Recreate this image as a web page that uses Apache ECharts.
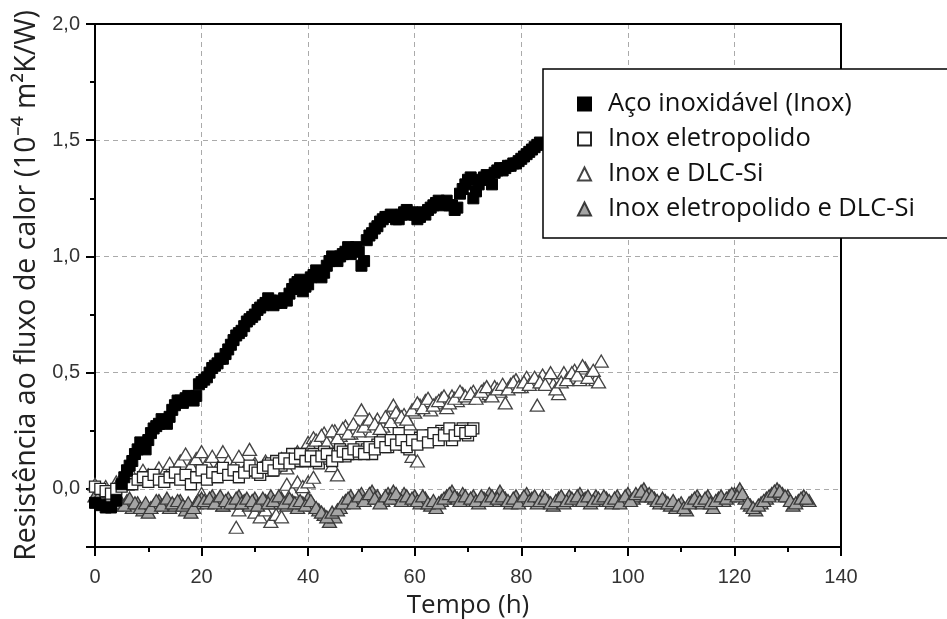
<!DOCTYPE html>
<html><head><meta charset="utf-8">
<script src="https://cdn.jsdelivr.net/npm/echarts@6/dist/echarts.min.js"></script>
<style>html,body{margin:0;padding:0;background:#fff}#c{width:947px;height:619px}</style>
</head><body><div id="c"></div>
<script>
const seriesNames = ['Aço inoxidável (Inox)', 'Inox eletropolido', 'Inox e DLC-Si', 'Inox eletropolido e DLC-Si'];

const inoxHours = [0,1,2,3,4,5,6,7,8,9,10,11,12,13,14,15,16,17,18,19,20,21,22,23,24,25,26,27,28,29,30,31,32,33,34,35,36,37,38,39,40,41,42,43,44,45,46,47,48,49,50,51,52,53,54,55,56,57,58,59,60,61,62,63,64,65,66,67,68,69,70,71,72,73,74,75,76,77,78,79,80,81,82,83];
const inoxValues = [-0.06,-0.07,-0.08,-0.08,-0.05,0.02,0.08,0.12,0.17,0.19,0.21,0.26,0.28,0.29,0.31,0.36,0.38,0.39,0.39,0.40,0.46,0.48,0.52,0.54,0.56,0.60,0.64,0.67,0.70,0.73,0.75,0.78,0.80,0.81,0.80,0.80,0.81,0.86,0.89,0.85,0.88,0.92,0.93,0.93,0.98,0.99,1.00,1.02,1.01,1.04,0.96,1.07,1.10,1.13,1.16,1.17,1.17,1.16,1.19,1.18,1.18,1.17,1.18,1.21,1.23,1.22,1.24,1.22,1.21,1.29,1.33,1.25,1.31,1.34,1.33,1.36,1.38,1.38,1.39,1.40,1.42,1.44,1.46,1.48];
const inoxExtra = [[5.5,0.05],[6.5,0.10],[7.5,0.15],[8.5,0.20],[9.5,0.17],[10.5,0.24],[11.5,0.27],[12.5,0.30],[13.5,0.28],[14.5,0.34],[15.5,0.38],[16.5,0.37],[17.5,0.40],[18.5,0.38],[19.5,0.45],[20.5,0.47],[21.5,0.50],[22.5,0.53],[23.5,0.56],[24.5,0.58],[25.5,0.62],[26.5,0.66],[27.5,0.68],[28.5,0.72],[29.5,0.74],[30.5,0.77],[31.5,0.79],[32.5,0.82],[33.5,0.79],[34.5,0.81],[35.5,0.82],[36.5,0.84],[37.5,0.88],[38.5,0.90],[39.5,0.87],[40.5,0.91],[41.5,0.94],[42.5,0.91],[43.5,0.96],[44.5,1.00],[45.5,0.98],[46.5,1.01],[47.5,1.04],[48.5,1.03],[49.5,1.02],[50.5,0.98],[51.5,1.09],[52.5,1.12],[53.5,1.15],[54.5,1.17],[55.5,1.18],[56.5,1.16],[57.5,1.18],[58.5,1.20],[59.5,1.19],[60.5,1.16],[61.5,1.19],[62.5,1.20],[63.5,1.22],[64.5,1.24],[65.5,1.23],[66.5,1.22],[67.5,1.20],[68.5,1.27],[69.5,1.31],[70.5,1.34],[71.5,1.28],[72.5,1.33],[73.5,1.35],[74.5,1.31],[75.5,1.37],[76.5,1.37],[77.5,1.39],[78.5,1.40],[79.5,1.41],[80.5,1.43],[81.5,1.45],[82.5,1.47],[83.5,1.49]];

const eletroHours = [0,1,2,3,4,5,6,7,8,9,10,11,12,13,14,15,16,17,18,19,20,21,22,23,24,25,26,27,28,29,30,31,32,33,34,35,36,37,38,39,40,41,42,43,44,45,46,47,48,49,50,51,52,53,54,55,56,57,58,59,60,61,62,63,64,65,66,67,68,69,70,71];
const eletroValues = [0.01,0.00,-0.01,-0.02,0.00,0.01,0.03,0.02,0.04,0.05,0.03,0.06,0.04,0.03,0.05,0.07,0.04,0.06,0.02,0.05,0.08,0.04,0.07,0.05,0.09,0.06,0.08,0.05,0.07,0.10,0.08,0.06,0.09,0.11,0.12,0.10,0.13,0.15,0.12,0.14,0.13,0.15,0.11,0.16,0.13,0.15,0.17,0.14,0.16,0.15,0.18,0.17,0.15,0.19,0.21,0.18,0.20,0.24,0.19,0.17,0.20,0.22,0.21,0.23,0.22,0.25,0.24,0.21,0.24,0.26,0.23,0.26];
const eletroExtra = [[30.5,0.07],[31.5,0.09],[32.5,0.10],[33.5,0.08],[34.5,0.11],[35.5,0.13],[36.5,0.11],[37.5,0.13],[38.5,0.15],[39.5,0.12],[40.5,0.14],[41.5,0.12],[42.5,0.14],[43.5,0.15],[44.5,0.12],[45.5,0.14],[46.5,0.16],[47.5,0.15],[48.5,0.17],[49.5,0.16],[50.5,0.15],[51.5,0.18],[52.5,0.17],[53.5,0.20],[54.5,0.18],[55.5,0.21],[56.5,0.19],[57.5,0.21],[58.5,0.18],[59.5,0.21],[60.5,0.19],[61.5,0.23],[62.5,0.20],[63.5,0.24],[64.5,0.21],[65.5,0.23],[66.5,0.26],[67.5,0.23],[68.5,0.25],[69.5,0.24],[70.5,0.25]];

const dlcHours = [0,1,2,3,4,5,6,7,8,9,10,11,12,13,14,15,16,17,18,19,20,21,22,23,24,25,26,27,28,29,30,31,32,33,34,35,36,37,38,39,40,41,42,43,44,45,46,47,48,49,50,51,52,53,54,55,56,57,58,59,60,61,62,63,64,65,66,67,68,69,70,71,72,73,74,75,76,77,78,79,80,81,82,83,84,85,86,87,88,89,90,91,92,93,94,95];
const dlcValues = [0.02,0.00,0.01,-0.01,0.03,0.05,0.02,0.06,0.04,0.08,0.06,0.05,0.09,0.07,0.11,0.08,0.12,0.15,0.10,0.13,0.16,0.11,0.14,0.09,0.16,0.12,0.10,0.14,0.08,0.17,0.11,0.09,0.12,0.08,0.11,0.13,0.09,0.14,0.16,0.12,0.20,0.22,0.19,0.24,0.21,0.25,0.23,0.27,0.24,0.26,0.34,0.28,0.25,0.30,0.27,0.31,0.36,0.29,0.32,0.28,0.33,0.36,0.38,0.34,0.37,0.39,0.35,0.40,0.38,0.41,0.39,0.42,0.40,0.43,0.41,0.44,0.42,0.37,0.45,0.47,0.44,0.48,0.46,0.36,0.49,0.47,0.45,0.41,0.50,0.48,0.51,0.47,0.52,0.49,0.47,0.55];
const dlcExtra = [[20,-0.02],[22,-0.04],[24,-0.07],[25,-0.05],[26.5,-0.165],[27,-0.09],[29,-0.06],[30,-0.10],[31,-0.12],[32,-0.09],[33,-0.14],[34,-0.11],[35,-0.12],[36,0.02],[37,-0.01],[38,0.03],[39,0.01],[40,0.03],[41,0.05],[44.5,0.10],[45.5,0.06],[59.5,0.14],[60.5,0.12],
  [40.5,0.18],[41.5,0.21],[42.5,0.23],[43.5,0.20],[44.5,0.25],[45.5,0.22],[46.5,0.26],[47.5,0.24],[48.5,0.28],[49.5,0.25],[50.5,0.27],[51.5,0.30],[52.5,0.28],[53.5,0.26],[54.5,0.31],[55.5,0.29],[56.5,0.33],[57.5,0.31],[58.5,0.30],[59.5,0.34],[60.5,0.37],[61.5,0.35],[62.5,0.39],[63.5,0.36],[64.5,0.38],[65.5,0.40],[66.5,0.37],[67.5,0.39],[68.5,0.42],[69.5,0.40],[70.5,0.41],[71.5,0.39],[72.5,0.42],[73.5,0.44],[74.5,0.40],[75.5,0.43],[76.5,0.45],[77.5,0.43],[78.5,0.46],[79.5,0.44],[80.5,0.46],[81.5,0.45],[82.5,0.48],[83.5,0.46],[84.5,0.45],[85.5,0.50],[86.5,0.43],[87.5,0.46],[88.5,0.47],[89.5,0.50],[90.5,0.49],[91.5,0.53],[92.5,0.48],[93.5,0.51],[94.5,0.46]];

const eletroDlcHours = [0,1,2,3,4,5,6,7,8,9,10,11,12,13,14,15,16,17,18,19,20,21,22,23,24,25,26,27,28,29,30,31,32,33,34,35,36,37,38,39,40,41,42,43,44,45,46,47,48,49,50,51,52,53,54,55,56,57,58,59,60,61,62,63,64,65,66,67,68,69,70,71,72,73,74,75,76,77,78,79,80,81,82,83,84,85,86,87,88,89,90,91,92,93,94,95,96,97,98,99,100,101,102,103,104,105,106,107,108,109,110,111,112,113,114,115,116,117,118,119,120,121,122,123,124,125,126,127,128,129,130,131,132,133,134];
const eletroDlcValues = [-0.03,-0.05,-0.06,-0.05,-0.07,-0.06,-0.05,-0.08,-0.06,-0.09,-0.10,-0.07,-0.05,-0.06,-0.08,-0.07,-0.05,-0.09,-0.10,-0.06,-0.04,-0.06,-0.03,-0.05,-0.07,-0.04,-0.06,-0.03,-0.05,-0.07,-0.04,-0.06,-0.05,-0.03,-0.06,-0.04,-0.07,-0.05,-0.08,-0.06,-0.04,-0.07,-0.09,-0.11,-0.14,-0.12,-0.08,-0.05,-0.03,-0.05,-0.02,-0.04,-0.01,-0.03,-0.05,-0.02,-0.01,-0.04,-0.02,-0.05,-0.03,-0.06,-0.04,-0.07,-0.08,-0.05,-0.03,-0.01,-0.04,-0.02,-0.05,-0.03,-0.06,-0.04,-0.02,-0.05,-0.01,-0.04,-0.06,-0.03,-0.05,-0.02,-0.04,-0.06,-0.03,-0.05,-0.07,-0.04,-0.06,-0.03,-0.05,-0.02,-0.04,-0.06,-0.03,-0.05,-0.04,-0.06,-0.03,-0.05,-0.02,-0.04,-0.03,0.00,-0.02,-0.04,-0.06,-0.05,-0.07,-0.08,-0.06,-0.09,-0.05,-0.03,-0.06,-0.03,-0.08,-0.04,-0.05,-0.03,-0.02,0.00,-0.04,-0.07,-0.09,-0.06,-0.04,-0.02,0.00,-0.02,-0.03,-0.07,-0.05,-0.03,-0.05];
const eletroDlcExtra = [[0.5,-0.04],[1.5,-0.06],[2.5,-0.04],[3.5,-0.06],[4.5,-0.05],[5.5,-0.07],[6.5,-0.04],[7.5,-0.06],[8.5,-0.08],[9.5,-0.06],[10.5,-0.08],[11.5,-0.05],[12.5,-0.07],[13.5,-0.04],[14.5,-0.06],[15.5,-0.05],[16.5,-0.07],[17.5,-0.06],[18.5,-0.08],[19.5,-0.05],[20.5,-0.05],[21.5,-0.04],[22.5,-0.06],[23.5,-0.03],[24.5,-0.05],[25.5,-0.06],[26.5,-0.04],[27.5,-0.06],[28.5,-0.04],[29.5,-0.05],[30.5,-0.07],[31.5,-0.04],[32.5,-0.06],[33.5,-0.05],[34.5,-0.03],[35.5,-0.06],[36.5,-0.04],[37.5,-0.06],[38.5,-0.05],[39.5,-0.07],[40.5,-0.05],[41.5,-0.08],[42.5,-0.10],[43.5,-0.12],[44.5,-0.10],[45.5,-0.09],[46.5,-0.06],[47.5,-0.04],[48.5,-0.06],[49.5,-0.03],[50.5,-0.05],[51.5,-0.02],[52.5,-0.04],[53.5,-0.06],[54.5,-0.03],[55.5,-0.04],[56.5,-0.02],[57.5,-0.05],[58.5,-0.03],[59.5,-0.04],[60.5,-0.05],[61.5,-0.03],[62.5,-0.06],[63.5,-0.05],[64.5,-0.06],[65.5,-0.04],[66.5,-0.02],[67.5,-0.03],[68.5,-0.05],[69.5,-0.03],[70.5,-0.04],[71.5,-0.05],[72.5,-0.03],[73.5,-0.05],[74.5,-0.03],[75.5,-0.04],[76.5,-0.03],[77.5,-0.05],[78.5,-0.04],[79.5,-0.06],[80.5,-0.03],[81.5,-0.05],[82.5,-0.03],[83.5,-0.05],[84.5,-0.04],[85.5,-0.06],[86.5,-0.05],[87.5,-0.03],[88.5,-0.05],[89.5,-0.04],[90.5,-0.03],[91.5,-0.05],[92.5,-0.03],[93.5,-0.05],[94.5,-0.04],[95.5,-0.03],[96.5,-0.05],[97.5,-0.04],[98.5,-0.06],[99.5,-0.03],[100.5,-0.05],[101.5,-0.02],[102.5,-0.01],[103.5,-0.03],[104.5,-0.03],[105.5,-0.05],[106.5,-0.04],[107.5,-0.06],[108.5,-0.05],[109.5,-0.07],[110.5,-0.08],[111.5,-0.06],[112.5,-0.04],[113.5,-0.05],[114.5,-0.04],[115.5,-0.06],[116.5,-0.05],[117.5,-0.03],[118.5,-0.04],[119.5,-0.02],[120.5,-0.03],[121.5,-0.02],[122.5,-0.06],[123.5,-0.08],[124.5,-0.07],[125.5,-0.05],[126.5,-0.03],[127.5,-0.01],[128.5,-0.01],[129.5,-0.03],[130.5,-0.05],[131.5,-0.06],[132.5,-0.04],[133.5,-0.04]];

const xTitle = 'Tempo (h)';
const yTitle = 'Resistência ao fluxo de calor (10⁻⁴ m²K/W)';

function pairs(xs, ys, extra) { return xs.map((x, i) => [x, ys[i]]).concat(extra || []); }
const fmtNum = v => String(v.toFixed(1)).replace('.', ',');

const chart = echarts.init(document.getElementById('c'), null, {renderer: 'canvas'});
const labelStyle = {fontFamily: 'Liberation Sans', fontSize: 20, color: '#333'};
const gridLine = {show: true, lineStyle: {color: '#aaa', type: [5, 4], width: 1}};
const frameAxis = {axisLine: {show: true, onZero: false, lineStyle: {color: '#000', width: 2}}, axisTick: {show: false}, axisLabel: {show: false}, splitLine: {show: false}};

chart.setOption({
  animation: false,
  backgroundColor: '#fff',
  grid: {left: 95, right: 106, top: 24, bottom: 72, show: false, containLabel: false, outerBoundsMode: 'none'},
  legend: {
    data: seriesNames, orient: 'vertical', left: 543, top: 69, z: 10,
    backgroundColor: '#fff', borderColor: '#000', borderWidth: 1.5,
    padding: [21, 120, 15, 34], itemGap: 7, itemWidth: 13, itemHeight: 13,
    textStyle: {fontFamily: 'Open Sans', fontSize: 25.5, color: '#111', lineHeight: 28, padding: [0, 0, 0, 12]},
    selectedMode: false
  },
  xAxis: [{
    type: 'value', min: 0, max: 140, interval: 20, position: 'bottom',
    name: xTitle, nameLocation: 'middle', nameGap: 46,
    nameTextStyle: {fontFamily: 'Open Sans', fontSize: 26, color: '#222'},
    axisLine: {onZero: false, lineStyle: {color: '#000', width: 2}},
    axisTick: {show: true, inside: false, length: 9, lineStyle: {color: '#000', width: 2}},
    minorTick: {show: true, splitNumber: 2, length: 5, lineStyle: {color: '#000', width: 2}},
    axisLabel: Object.assign({margin: 20}, labelStyle),
    splitLine: gridLine
  }, Object.assign({type: 'value', min: 0, max: 140, position: 'top'}, frameAxis)],
  yAxis: [{
    type: 'value', min: -0.25, max: 2.0, splitNumber: 5,
    name: yTitle, nameLocation: 'middle', nameGap: 44,
    nameTextStyle: {fontFamily: 'Open Sans', fontSize: 28.5, color: '#222'},
    axisLine: {show: true, onZero: false, lineStyle: {color: '#000', width: 2}},
    axisTick: {show: true, inside: false, length: 9, lineStyle: {color: '#000', width: 2}},
    axisLabel: Object.assign({margin: 15, formatter: v => (Math.abs(v * 2 - Math.round(v * 2)) < 1e-6 ? fmtNum(v) : '')}, labelStyle),
    splitLine: gridLine
  }, {
    type: 'value', min: -0.25, max: 2.0, interval: 0.5, position: 'left',
    axisLine: {show: false, onZero: false}, axisLabel: {show: false}, splitLine: {show: false},
    axisTick: {show: true, inside: false, length: 5, lineStyle: {color: '#000', width: 2}}
  }, Object.assign({type: 'value', min: -0.25, max: 2.0, position: 'right'}, frameAxis)],
  series: [
    {name: seriesNames[0], type: 'scatter', z: 5, symbol: 'rect', symbolSize: 11,
     itemStyle: {color: '#000', borderColor: '#000', borderWidth: 1, opacity: 1}, data: pairs(inoxHours, inoxValues, inoxExtra)},
    {name: seriesNames[1], type: 'scatter', z: 4, symbol: 'rect', symbolSize: 11,
     itemStyle: {color: '#fff', borderColor: '#222', borderWidth: 1.3, opacity: 1}, data: pairs(eletroHours, eletroValues, eletroExtra)},
    {name: seriesNames[2], type: 'scatter', z: 2, symbol: 'triangle', symbolSize: [14, 12],
     itemStyle: {color: '#fff', borderColor: '#444', borderWidth: 1.3, opacity: 1}, data: pairs(dlcHours, dlcValues, dlcExtra)},
    {name: seriesNames[3], type: 'scatter', z: 3, symbol: 'triangle', symbolSize: [14, 12],
     itemStyle: {color: '#a4a4a4', borderColor: '#3a3a3a', borderWidth: 1.3, opacity: 1}, data: pairs(eletroDlcHours, eletroDlcValues, eletroDlcExtra)}
  ]
});
</script></body></html>
